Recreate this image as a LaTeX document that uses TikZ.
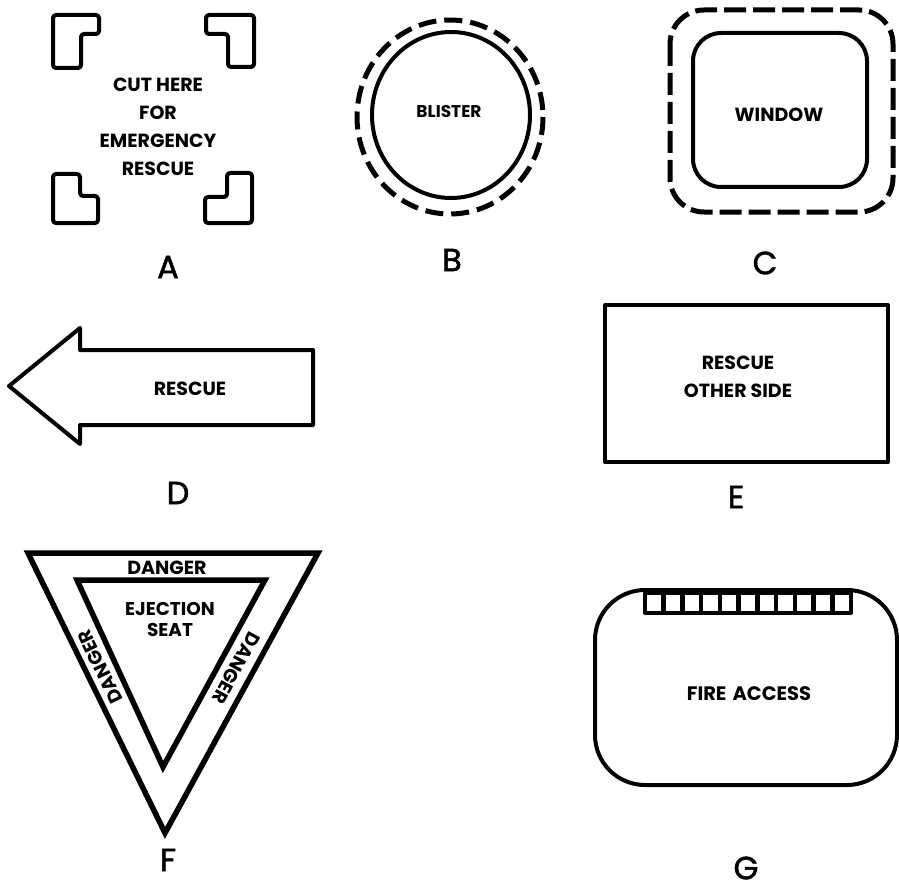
\documentclass[tikz,border=0pt]{standalone}
\usepackage{fontspec}
\setmainfont{Poppins}

\begin{document}
\begin{tikzpicture}[x=1pt, y=-1pt,
    every node/.style={inner sep=0pt, outer sep=0pt},
    outline/.style={line width=4pt, line join=round},
    signtext/.style={font=\bfseries\fontsize{19}{28}\selectfont, align=center},
    smalltext/.style={font=\bfseries\fontsize{17}{20}\selectfont},
    letter/.style={font=\fontsize{32}{36}\selectfont\addfontfeature{FakeBold=1.6}},
    dashline/.style={line width=5pt, dash pattern=on 18pt off 8pt}]
    \useasboundingbox (0,0) rectangle (899,896);
    % A: cut-in corners
    \draw[outline, rounded corners=3pt] (53,15) -- (99,15) -- (99,34) -- (81,34) -- (81,68) -- (53,68) -- cycle;
    \draw[outline, rounded corners=3pt] (206,15) -- (254,15) -- (254,67) -- (228,67) -- (228,34) -- (206,34) -- cycle;
    \draw[outline, rounded corners=3pt] (53,174) -- (80,174) -- (80,196) -- (98,196) -- (98,223) -- (53,223) -- cycle;
    \draw[outline, rounded corners=3pt] (227,173) -- (252,173) -- (252,223) -- (205,223) -- (205,197) -- (227,197) -- cycle;
    \node[signtext] (cuttext) at (158,127) {CUT HERE\\FOR\\EMERGENCY\\RESCUE};
    \node[letter] (labA) at (168,267) {A};
    % B: blister
    \draw[outline] (451,115) ellipse (79 and 83);
    \draw[dashline] (450,117) ellipse (93 and 97);
    \node[smalltext] (blister) at (449,112) {BLISTER};
    \node[letter] (labB) at (452,260) {B};
    % C: window
    \draw[outline, rounded corners=28pt] (693,33) rectangle (867,187);
    \draw[dashline, dash pattern=on 22pt off 7pt, rounded corners=34pt] (670,10) rectangle (893,212);
    \node[signtext] (window) at (779,115) {WINDOW};
    \node[letter] (labC) at (765,263) {C};
    % D: arrow
    \draw[outline] (9,386) -- (80,328) -- (80,350) -- (313,350) -- (313,425) -- (80,425) -- (80,444) -- cycle;
    \node[signtext] (rescue) at (190,389) {RESCUE};
    \node[letter] (labD) at (178,493) {D};
    % E: other side
    \draw[outline] (605,305) rectangle (888,462);
    \node[signtext] (otherside) at (738,377) {RESCUE\\OTHER SIDE};
    \node[letter] (labE) at (736,497) {E};
    % F: ejection seat
    \draw[line width=5.5pt, line join=miter] (28,553) -- (318,553) -- (165,833) -- cycle;
    \draw[line width=5.5pt, line join=miter] (77,580) -- (265,580) -- (163,767) -- cycle;
    \node[signtext] (dangertop) at (167,568) {DANGER};
    \node[signtext, rotate=116] (dangerleft) at (100,667) {DANGER};
    \node[signtext, rotate=-118.6] (dangerright) at (236,668) {DANGER};
    \node[signtext, font=\bfseries\fontsize{18.5}{21}\selectfont] (ejection) at (170,619) {EJECTION\\SEAT};
    \node[letter] (labF) at (168,860) {F};
    % G: fire access
    \draw[outline, rounded corners=50pt] (595,590) rectangle (897,785);
    \draw[outline] (645,593) rectangle (851,613);
    \foreach \i in {1,...,10}
        \draw[line width=4.5pt] (645+\i*18.73,593) -- (645+\i*18.73,613);
    \node[signtext, font=\bfseries\fontsize{19.5}{24}\selectfont] (fireaccess) at (749,694) {FIRE\hspace{6pt}ACCESS};
    \node[letter] (labG) at (746,868) {G};
\end{tikzpicture}
\end{document}
